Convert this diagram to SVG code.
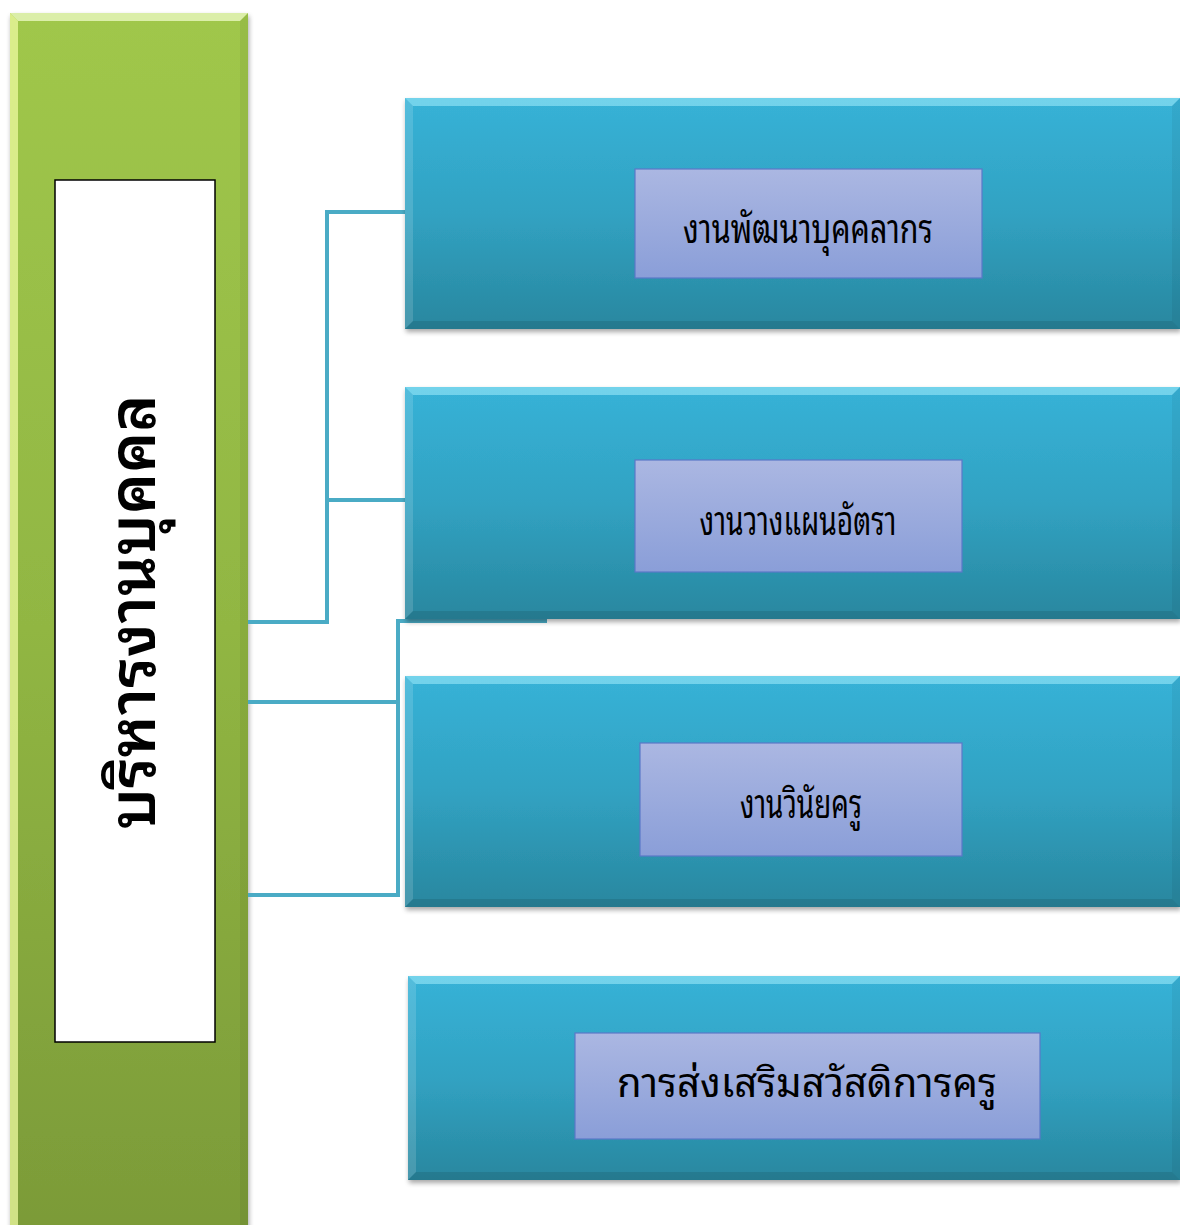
<svg xmlns="http://www.w3.org/2000/svg" width="1180" height="1225" viewBox="0 0 1180 1225">
<defs>
<linearGradient id="gGreen" x1="0" y1="0" x2="0" y2="1">
<stop offset="0" stop-color="#a0c74b"/><stop offset="0.5" stop-color="#91b643"/><stop offset="1" stop-color="#7b9a38"/>
</linearGradient>
<linearGradient id="gBlue" x1="0" y1="0" x2="0" y2="1">
<stop offset="0" stop-color="#37b2d7"/><stop offset="0.5" stop-color="#31a2c2"/><stop offset="1" stop-color="#29879f"/>
</linearGradient>
<linearGradient id="gLav" x1="0" y1="0" x2="0" y2="1">
<stop offset="0" stop-color="#abb7e2"/><stop offset="1" stop-color="#8a9ed8"/>
</linearGradient>
<filter id="sh" x="-5%" y="-5%" width="110%" height="115%">
<feGaussianBlur in="SourceAlpha" stdDeviation="2.5"/><feOffset dx="1" dy="3"/>
<feComponentTransfer><feFuncA type="linear" slope="0.35"/></feComponentTransfer>
<feMerge><feMergeNode/><feMergeNode in="SourceGraphic"/></feMerge>
</filter>
<style>
.conn{fill:none;stroke:#4aabc5;stroke-width:4;stroke-linejoin:miter}
.bt{fill:#aef4ff;fill-opacity:0.5}
.bl{fill:#ffffff;fill-opacity:0.14}
.bb{fill:#000000;fill-opacity:0.10}
.br{fill:#000000;fill-opacity:0.05}
.lav{fill:url(#gLav);stroke:#5a78c8;stroke-width:1.2}
.tn{font-family:"Noto Sans Thai Looped","Noto Sans Thai","Noto Sans","DejaVu Sans",sans-serif;font-size:40px;fill:#000;text-anchor:middle}
.tw{font-family:"Noto Sans Thai Looped","Noto Sans Thai","Noto Sans","DejaVu Sans",sans-serif;font-size:40px;fill:#000;text-anchor:middle}
.tv{font-family:"Noto Sans Thai Looped","Noto Sans Thai","Noto Sans","DejaVu Sans",sans-serif;font-size:64px;font-weight:600;fill:#000;text-anchor:middle}
</style>
</defs>
<rect width="1180" height="1225" fill="#ffffff"/>

<g id="main">
<g filter="url(#sh)">
<rect x="10" y="13" width="238" height="1230" fill="url(#gGreen)"/>
</g>
<polygon points="10,13 248,13 240,21 18,21" fill="#eaf8c0" fill-opacity="0.8"/>
<polygon points="10,13 18,21 18,1243 10,1243" fill="#eefaa0" fill-opacity="0.75"/>
<polygon points="248,13 248,1243 240,1243 240,21" class="br"/>
<rect x="55" y="180" width="160" height="862" fill="#ffffff" stroke="#000" stroke-width="1.5"/>
<text class="tv" transform="translate(155,612) rotate(-90)" textLength="435" lengthAdjust="spacingAndGlyphs">บริหารงานบุคคล</text>
</g>

<g id="connectors">
<polyline class="conn" points="248,622 327,622 327,212 405,212"/>
<line class="conn" x1="327" y1="500" x2="405" y2="500"/>
<polyline class="conn" points="248,702 398,702"/>
<polyline class="conn" points="547,621 398,621 398,895 248,895"/>
</g>

<g id="n1">
<rect x="405" y="98" width="775" height="231" fill="url(#gBlue)" filter="url(#sh)"/>
<polygon class="bt" points="405,98 1180,98 1172,106 413,106"/>
<polygon class="bl" points="405,98 413,106 413,321 405,329"/>
<polygon class="bb" points="405,329 413,321 1172,321 1180,329"/>
<polygon class="br" points="1180,98 1180,329 1172,321 1172,106"/>
<rect class="lav" x="635" y="169" width="347" height="109"/>
<text class="tn" x="808" y="243" textLength="250" lengthAdjust="spacingAndGlyphs">งานพัฒนาบุคคลากร</text>
</g>

<g id="n2">
<rect x="405" y="387" width="775" height="232" fill="url(#gBlue)" filter="url(#sh)"/>
<polygon class="bt" points="405,387 1180,387 1172,395 413,395"/>
<polygon class="bl" points="405,387 413,395 413,611 405,619"/>
<polygon class="bb" points="405,619 413,611 1172,611 1180,619"/>
<polygon class="br" points="1180,387 1180,619 1172,611 1172,395"/>
<rect class="lav" x="635" y="460" width="327" height="112"/>
<text class="tn" x="798" y="535" textLength="197" lengthAdjust="spacingAndGlyphs">งานวางแผนอัตรา</text>
</g>

<g id="n3">
<rect x="405" y="676" width="775" height="231" fill="url(#gBlue)" filter="url(#sh)"/>
<polygon class="bt" points="405,676 1180,676 1172,684 413,684"/>
<polygon class="bl" points="405,676 413,684 413,899 405,907"/>
<polygon class="bb" points="405,907 413,899 1172,899 1180,907"/>
<polygon class="br" points="1180,676 1180,907 1172,899 1172,684"/>
<rect class="lav" x="640" y="743" width="322" height="113"/>
<text class="tn" x="801" y="818" textLength="122" lengthAdjust="spacingAndGlyphs">งานวินัยครู</text>
</g>

<g id="n4">
<rect x="408" y="976" width="772" height="204" fill="url(#gBlue)" filter="url(#sh)"/>
<polygon class="bt" points="408,976 1180,976 1172,984 416,984"/>
<polygon class="bl" points="408,976 416,984 416,1172 408,1180"/>
<polygon class="bb" points="408,1180 416,1172 1172,1172 1180,1180"/>
<polygon class="br" points="1180,976 1180,1180 1172,1172 1172,984"/>
<rect class="lav" x="575" y="1033" width="465" height="106"/>
<text class="tw" x="807" y="1097" textLength="380" lengthAdjust="spacingAndGlyphs">การส่งเสริมสวัสดิการครู</text>
</g>
</svg>
